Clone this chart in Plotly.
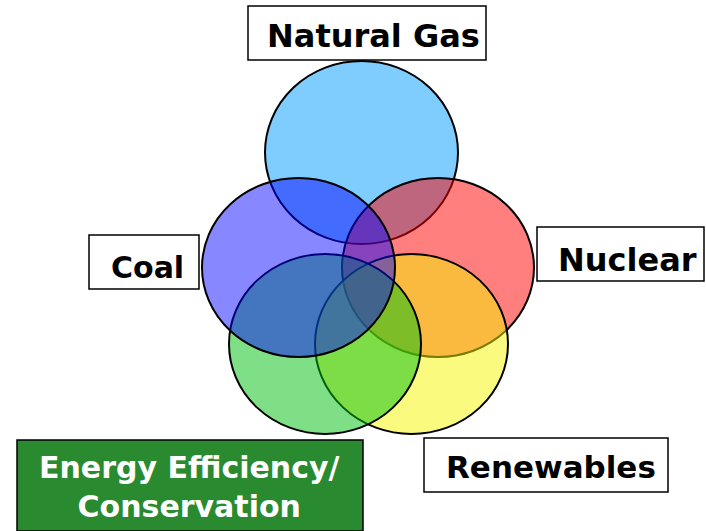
import plotly.graph_objects as go

# Categories (Venn sets), drawn bottom-to-top
categories = ["Natural Gas", "Nuclear", "Renewables", "Energy Efficiency/<br>Conservation", "Coal"]
fill_rgb = [(0, 153, 255), (255, 0, 0), (245, 245, 0), (0, 192, 16), (0, 0, 255)]
fill_alpha = [0.5, 0.5, 0.5, 0.5, 0.47]
# ellipse extents (x0, x1, y0, y1) in page pixels
ellipse_x0 = [265, 342, 315, 229, 202]
ellipse_x1 = [458, 534, 508, 421, 395]
ellipse_y0 = [61, 178, 254, 254, 178]
ellipse_y1 = [244, 357, 434, 434, 357]

# label boxes
label_text = ["Natural Gas", "Coal", "Nuclear", "Renewables", "Energy Efficiency/<br>Conservation"]
box_x0 = [248, 89, 537, 424, 17]
box_x1 = [486, 199, 704, 668, 363]
box_y0 = [6, 235, 227, 438, 440]
box_y1 = [60, 289, 281, 492, 531]
box_fill = ["white", "white", "white", "white", "#2A8A30"]
text_x = [373, 147.5, 627.5, 550.5, 189]
text_y = [36, 267.5, 259.5, 467, 487]
text_size = [32, 30, 32, 31, 30]
text_color = ["black", "black", "black", "black", "white"]

W, H = 706, 531

fig = go.Figure()
fig.add_trace(go.Scatter(x=[0, W], y=[0, H], mode="markers",
                         marker=dict(opacity=0), hoverinfo="skip", showlegend=False))

for i in range(len(categories)):
    r, g, b = fill_rgb[i]
    fig.add_shape(type="circle", xref="x", yref="y",
                  x0=ellipse_x0[i], x1=ellipse_x1[i], y0=ellipse_y0[i], y1=ellipse_y1[i],
                  fillcolor=f"rgba({r},{g},{b},{fill_alpha[i]})",
                  line=dict(color="black", width=2))

for i in range(len(label_text)):
    fig.add_shape(type="rect", xref="x", yref="y",
                  x0=box_x0[i], x1=box_x1[i], y0=box_y0[i], y1=box_y1[i],
                  fillcolor=box_fill[i], line=dict(color="black", width=1.5))
    fig.add_annotation(x=text_x[i], y=text_y[i], xref="x", yref="y",
                       text=f"<b>{label_text[i]}</b>", showarrow=False,
                       xanchor="center", yanchor="middle",
                       font=dict(family="DejaVu Sans", size=text_size[i], color=text_color[i]))

fig.update_layout(width=W, height=H, margin=dict(l=0, r=0, t=0, b=0),
                  paper_bgcolor="white", plot_bgcolor="white",
                  xaxis=dict(range=[0, W], visible=False, fixedrange=True),
                  yaxis=dict(range=[H, 0], visible=False, fixedrange=True),
                  showlegend=False)

fig.write_html("out.html", config={"displayModeBar": False},
               post_script="document.body.style.margin='0px';document.body.style.overflow='hidden';")
